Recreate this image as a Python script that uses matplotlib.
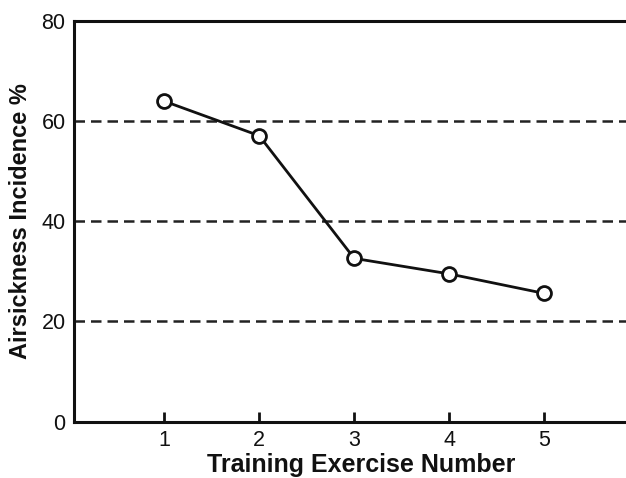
import matplotlib.pyplot as plt

plt.rcParams['font.family'] = ['Liberation Sans', 'DejaVu Sans']

# dados
exercise = [1, 2, 3, 4, 5]
incidence = [64.0, 57.1, 32.6, 29.5, 25.6]
y_ticks = [0, 20, 40, 60, 80]
grid_levels = [20, 40, 60]

fig = plt.figure(figsize=(6.26, 4.78), dpi=100)
ax = fig.add_axes([0.118, 0.118, 0.882, 0.838])

# linhas tracejadas horizontais
for g in grid_levels:
    ax.axhline(g, color='#222222', lw=1.8, dashes=(4.2, 2.4), zorder=1)

ax.plot(exercise, incidence, color='#111111', lw=2.0, marker='o', ms=10,
        mfc='white', mec='#111111', mew=2.0, zorder=3)

ax.set_xlim(0.05, 5.86)
ax.set_ylim(0, 80)
ax.set_xticks(exercise)
ax.set_yticks(y_ticks)
ax.tick_params(axis='x', direction='in', length=7, width=2, labelsize=15.5,
               pad=6, colors='#111111')
ax.tick_params(axis='y', length=0, labelsize=15.5, pad=6, colors='#111111')

ax.spines['right'].set_visible(False)
for s in ['left', 'top', 'bottom']:
    ax.spines[s].set_linewidth(2.2)
    ax.spines[s].set_color('#111111')

ax.set_xlabel('Training Exercise Number', fontsize=18, fontweight='bold',
              labelpad=1.5, color='#111111')
ax.xaxis.label.set_x(0.52)
ax.set_ylabel('Airsickness Incidence %', fontsize=17, fontweight='bold',
              labelpad=7, color='#111111')

plt.savefig('out.png', dpi=100)
